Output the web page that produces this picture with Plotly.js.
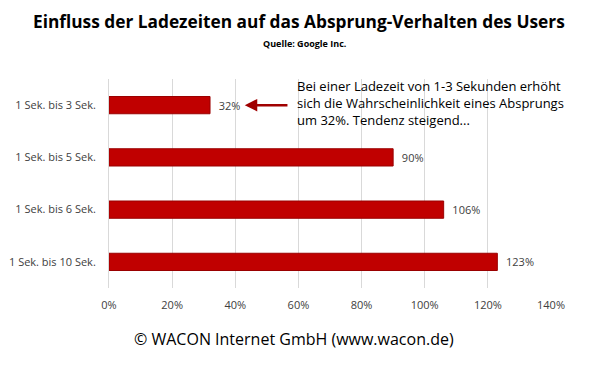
<!DOCTYPE html>
<html><head><meta charset="utf-8">
<script src="https://cdn.plot.ly/plotly-3.0.1.min.js"></script>
<style>html,body{margin:0;padding:0;background:#fff}#c{width:600px;height:369px}</style>
</head><body><div id="c"></div>
<script>
const categories = ["1 Sek. bis 3 Sek.", "1 Sek. bis 5 Sek.", "1 Sek. bis 6 Sek.", "1 Sek. bis 10 Sek."];
const values = [32, 90, 106, 123];
const tickVals = [0, 20, 40, 60, 80, 100, 120, 140];
const tickLabels = ["0%", "20%", "40%", "60%", "80%", "100%", "120%", "140%"];
const font = "Open Sans, Noto Sans, sans-serif";

const trace = {
  type: "bar", orientation: "h",
  x: values, y: categories,
  marker: {color: "#C00000", line: {color: "#9a0000", width: 1}},
  width: 0.33,
  text: values.map(v => "\u00a0\u00a0" + v + "%"), textposition: "outside",
  textfont: {family: font, size: 11, color: "#404040"},
  cliponaxis: false, hoverinfo: "none"
};
const layout = {
  width: 600, height: 369,
  margin: {l: 109, r: 49, t: 79, b: 81},
  paper_bgcolor: "#fff", plot_bgcolor: "#fff",
  showlegend: false,
  xaxis: {range: [0, 140], tickvals: tickVals, ticktext: tickLabels,
    showgrid: true, gridcolor: "#d9d9d9", gridwidth: 1, zeroline: false, showline: false,
    tickfont: {family: font, size: 11, color: "#404040"}, ticks: "", ticklabelstandoff: 9},
  yaxis: {autorange: "reversed", showgrid: false, zeroline: false,
    showline: true, linecolor: "#d9d9d9", linewidth: 1, ticks: "",
    tickfont: {family: font, size: 11, color: "#404040"}, ticklabelstandoff: 10},
  annotations: [
    {xref: "paper", yref: "paper", x: 0.5, y: 1, xanchor: "center", yanchor: "bottom",
     text: "<b>Einfluss der Ladezeiten auf das Absprung-Verhalten des Users</b>",
     showarrow: false, font: {family: font, size: 17.3, color: "#000"},
     xshift: -31, yshift: 44},
    {xref: "paper", yref: "paper", x: 0.5, y: 1, xanchor: "center", yanchor: "bottom",
     text: "<b>Quelle: Google Inc.</b>", showarrow: false,
     font: {family: font, size: 9, color: "#000"}, xshift: -25, yshift: 27},
    {xref: "x", yref: "y", x: 59, y: categories[0], xanchor: "left", yanchor: "middle", align: "left",
     text: "Bei einer Ladezeit von 1-3 Sekunden erhöht<br>sich die Wahrscheinlichkeit eines Absprungs<br>um 32%. Tendenz steigend...",
     showarrow: false, font: {family: font, size: 13, color: "#000"}, yshift: 2},
    {xref: "x", yref: "y", axref: "x", ayref: "y", x: 43, y: categories[0],
     ax: 57, ay: categories[0], showarrow: true, arrowhead: 2, arrowsize: 1, arrowwidth: 2.5,
     arrowcolor: "#a00000", text: ""},
    {xref: "paper", yref: "paper", x: 0.5, y: 0, xanchor: "center", yanchor: "top",
     text: "© WACON Internet GmbH (www.wacon.de)", showarrow: false,
     font: {family: font, size: 16, color: "#000"}, xshift: -36, yshift: -38}
  ]
};
Plotly.newPlot("c", [trace], layout, {staticPlot: true, displayModeBar: false});
</script></body></html>
